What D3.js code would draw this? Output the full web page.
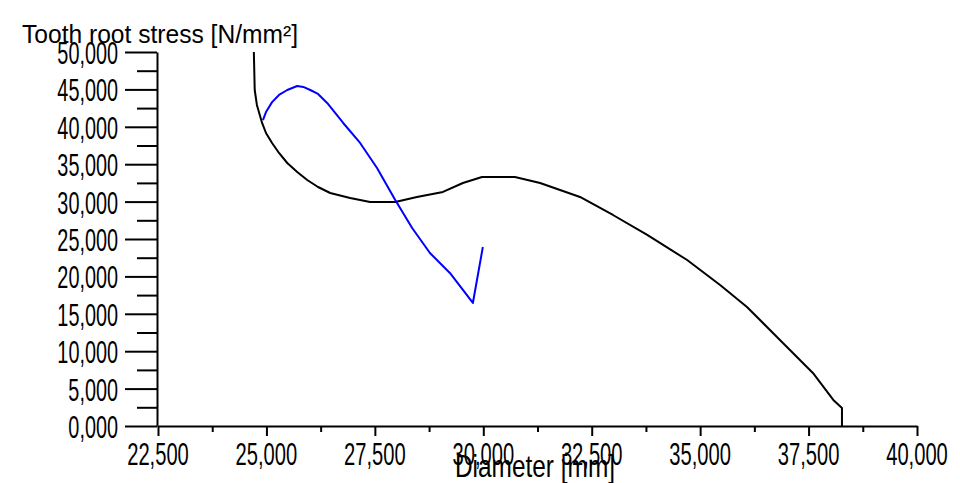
<!DOCTYPE html>
<html>
<head>
<meta charset="utf-8">
<script src="https://cdn.jsdelivr.net/npm/d3@7"></script>
<style>
  html, body { margin: 0; padding: 0; background: #ffffff; }
  svg { display: block; }
  text { font-family: "Liberation Sans", Arial, sans-serif; fill: #000; }
</style>
</head>
<body>
<svg id="chart" width="960" height="483"></svg>
<script>
// ---- data (decimal comma in the original labels: 22,500 = 22.5 mm) ----
const blackDiameter = [24.71, 24.73, 24.78, 24.90, 24.99, 25.13, 25.29, 25.48, 25.71, 25.94, 26.19, 26.47, 26.93, 27.39, 27.97, 28.47, 29.07, 29.53, 29.97, 30.73, 31.31, 31.77, 32.23, 32.99, 33.78, 34.70, 35.46, 36.08, 36.84, 37.60, 38.07, 38.27, 38.27];
const blackStress   = [50.00, 44.92, 42.92, 40.51, 39.17, 37.84, 36.50, 35.16, 33.96, 32.89, 31.95, 31.15, 30.48, 29.95, 29.95, 30.62, 31.29, 32.49, 33.29, 33.29, 32.49, 31.55, 30.62, 28.21, 25.54, 22.19, 18.85, 15.91, 11.50, 7.09, 3.48, 2.41, 0.00];
const blueDiameter  = [24.92, 24.99, 25.13, 25.29, 25.48, 25.71, 25.85, 26.01, 26.19, 26.40, 26.77, 27.16, 27.55, 27.97, 28.36, 28.77, 29.23, 29.76, 29.99];
const blueStress    = [40.90, 41.97, 43.30, 44.26, 44.92, 45.46, 45.33, 44.92, 44.39, 43.19, 40.51, 37.84, 34.50, 30.22, 26.47, 23.13, 20.46, 16.45, 23.93];
const xMajorTicks = [22.5, 25, 27.5, 30, 32.5, 35, 37.5, 40];
const xMinorTicks = [23.75, 26.25, 28.75, 31.25, 33.75, 36.25, 38.75];
const yMajorTicks = [0, 5, 10, 15, 20, 25, 30, 35, 40, 45, 50];
const yMinorTicks = [2.5, 7.5, 12.5, 17.5, 22.5, 27.5, 32.5, 37.5, 42.5, 47.5];
const yTitle = "Tooth root stress [N/mm²]";
const xTitle = "Diameter [mm]";

const locale = d3.formatLocale({decimal: ",", thousands: ".", grouping: [3], currency: ["", ""]});
const fmt = locale.format(".3f");

const svg = d3.select("#chart");
svg.append("rect").attr("width", 960).attr("height", 483).attr("fill", "#fff");

const x = d3.scaleLinear().domain([22.5, 40]).range([158, 917]);
const y = d3.scaleLinear().domain([0, 50]).range([426, 52]);

function styleAxis(g) {
  g.selectAll("path, line").attr("stroke", "#000").attr("stroke-width", 2);
  g.selectAll("text").remove();
}

// Y axis
svg.append("g").attr("transform", "translate(157,0)")
  .call(d3.axisLeft(y).tickValues(yMajorTicks).tickSize(32).tickSizeOuter(0).tickFormat(""))
  .call(styleAxis);
svg.append("g").attr("transform", "translate(157,0)")
  .call(d3.axisLeft(y).tickValues(yMinorTicks).tickSize(20).tickSizeOuter(0).tickFormat(""))
  .call(styleAxis).call(g => g.select(".domain").remove());

// X axis
svg.append("g").attr("transform", "translate(0,426)")
  .call(d3.axisBottom(x).tickValues(xMajorTicks).tickSize(10).tickSizeOuter(0).tickFormat(""))
  .call(styleAxis);
svg.append("g").attr("transform", "translate(0,426)")
  .call(d3.axisBottom(x).tickValues(xMinorTicks).tickSize(6).tickSizeOuter(0).tickFormat(""))
  .call(styleAxis).call(g => g.select(".domain").remove());

// tick labels (narrow font look)
svg.append("g").selectAll("text").data(yMajorTicks).join("text")
  .attr("transform", d => `translate(118,${y(d) + 12}) scale(0.62,1)`)
  .attr("text-anchor", "end").attr("font-size", 32)
  .text(d => fmt(d));
svg.append("g").selectAll("text").data(xMajorTicks).join("text")
  .attr("transform", d => `translate(${x(d)},465) scale(0.63,1)`)
  .attr("text-anchor", "middle").attr("font-size", 32)
  .text(d => fmt(d));

// curves
const line = d3.line().x(d => x(d[0])).y(d => y(d[1]));
svg.append("path")
  .datum(blackDiameter.map((d, i) => [d, blackStress[i]]))
  .attr("d", line).attr("fill", "none").attr("stroke", "#000")
  .attr("stroke-width", 2).attr("stroke-linejoin", "round");
svg.append("path")
  .datum(blueDiameter.map((d, i) => [d, blueStress[i]]))
  .attr("d", line).attr("fill", "none").attr("stroke", "#0000ff")
  .attr("stroke-width", 2).attr("stroke-linejoin", "round");

// titles
svg.append("text").attr("x", 22).attr("y", 43).attr("font-size", 25)
  .attr("textLength", 276).attr("lengthAdjust", "spacingAndGlyphs").text(yTitle);
svg.append("text").attr("x", 455).attr("y", 477).attr("font-size", 32)
  .attr("textLength", 160).attr("lengthAdjust", "spacingAndGlyphs").text(xTitle);
</script>
</body>
</html>
